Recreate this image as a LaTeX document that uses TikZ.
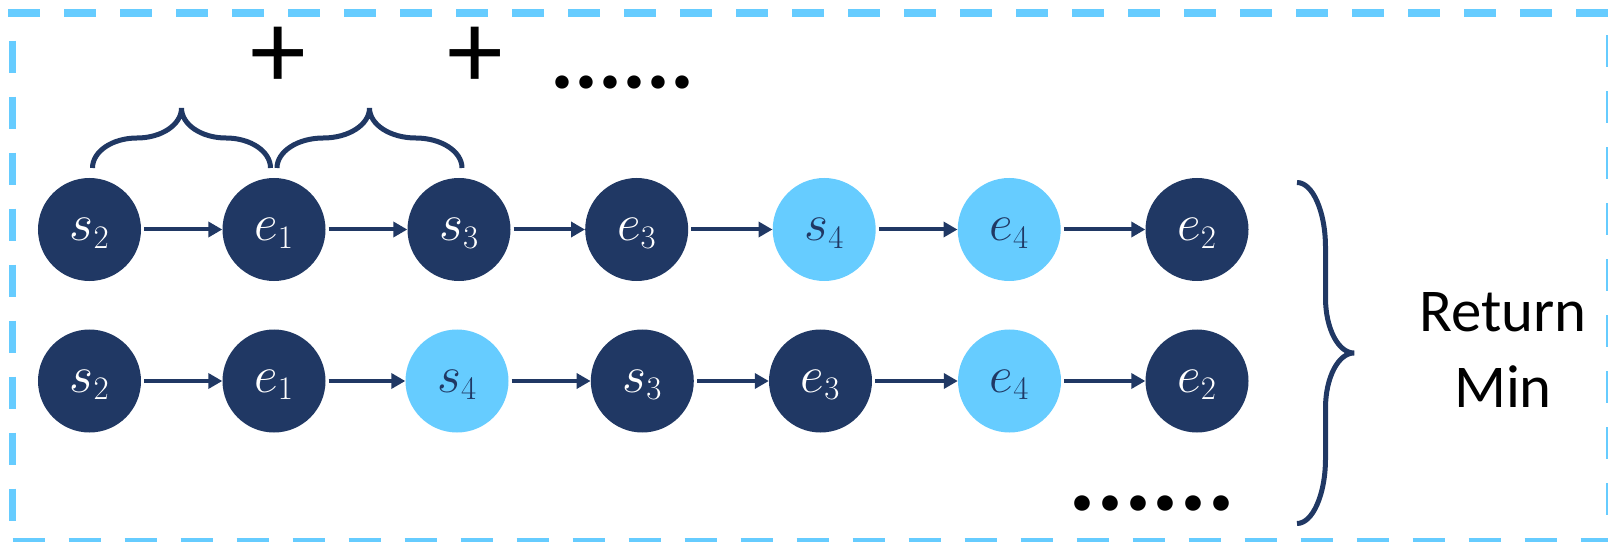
\RequirePackage{fix-cm}
\documentclass[tikz,border=0pt]{standalone}
\usepackage{fontspec}
\setmainfont{Carlito}
\usetikzlibrary{arrows.meta}
\definecolor{navy}{HTML}{203864}
\definecolor{sky}{HTML}{66CCFF}
\DeclareMathSizes{52}{52}{33}{24}

\begin{document}
\begin{tikzpicture}[x=1bp,y=-1bp,
  dark/.style={circle, fill=navy, text=white, minimum size=103bp, inner sep=0pt,
               text depth=0pt, font=\fontsize{52}{62}\selectfont},
  light/.style={dark, fill=sky, text=navy},
  link/.style={draw=navy, line width=4bp, -{Triangle[length=14bp,width=15bp]},
               shorten <=3bp},
  bracestroke/.style={draw=navy, line width=5bp},
  frame/.style={draw=sky, line width=7.5bp, dash pattern=on 32bp off 24bp},
  plus/.style={inner sep=0pt, font=\fontsize{112}{120}\selectfont},
  dots/.style={inner sep=0pt},
]
\useasboundingbox (0,0) rectangle (1608,542);

% dashed frame, one side at a time
\draw[frame] (8.3,13) -- (1612,13);
\draw[frame, dash phase=32bp] (12.5,16.7) -- (12.5,546);
\draw[frame] (12.7,541.7) -- (1612,541.7);
\draw[frame] (1609.7,35) -- (1609.7,546);

% first sequence
\node[dark]  (a1) at (89.5,229.5)  {$s_2$};
\node[dark]  (a2) at (274,229.5)   {$e_1$};
\node[dark]  (a3) at (459,229.5)   {$s_3$};
\node[dark]  (a4) at (636.7,229.5) {$e_3$};
\node[light] (a5) at (824.2,229.5) {$s_4$};
\node[light] (a6) at (1009.2,229.5){$e_4$};
\node[dark]  (a7) at (1197,229.5)  {$e_2$};

% second sequence
\node[dark]  (b1) at (89.5,381)  {$s_2$};
\node[dark]  (b2) at (274,381)   {$e_1$};
\node[light] (b3) at (457,381)   {$s_4$};
\node[dark]  (b4) at (642.3,381) {$s_3$};
\node[dark]  (b5) at (820.5,381) {$e_3$};
\node[light] (b6) at (1009.5,381){$e_4$};
\node[dark]  (b7) at (1197,381)  {$e_2$};

\foreach \i/\j in {1/2,2/3,3/4,4/5,5/6,6/7}{
  \draw[link] (a\i) -- (a\j);
  \draw[link] (b\i) -- (b\j);
}

% braces over consecutive pairs
\draw[bracestroke] (92.5,168) .. controls (92.5,151.4) and (112.4,138) .. (137,138)
  .. controls (161.6,138) and (181.5,124.6) .. (181.5,108)
  .. controls (181.5,124.6) and (201.4,138) .. (226,138)
  .. controls (250.6,138) and (270.5,151.4) .. (270.5,168);
\draw[bracestroke] (277,168) .. controls (277,151.4) and (297.8,138) .. (323.25,138)
  .. controls (348.8,138) and (369.5,124.6) .. (369.5,108)
  .. controls (369.5,124.6) and (390.2,138) .. (415.75,138)
  .. controls (441.3,138) and (462,151.4) .. (462,168);

\node[plus] (p1) at (278,58) {+};
\node[plus] (p2) at (475,58) {+};
\node[dots, font=\bfseries\fontsize{90}{100}\selectfont] (d1) at (622.5,82.7) {......};

% brace gathering all sequences
\draw[bracestroke] (1297,182.5) .. controls (1312.7,182.5) and (1325.5,211.6) .. (1325.5,247.5)
  -- (1325.5,298) .. controls (1325.5,328.4) and (1338.3,353) .. (1354,353)
  .. controls (1338.3,353) and (1325.5,377.6) .. (1325.5,408)
  -- (1325.5,458.5) .. controls (1325.5,494.4) and (1312.7,523.5) .. (1297,523.5);

\node[dots, font=\bfseries\fontsize{105}{115}\selectfont] (d2) at (1152,503) {......};

\node[align=center, inner sep=0pt, font=\fontsize{61}{77}\selectfont] (ret) at (1503,350) {Return\\Min};
\end{tikzpicture}
\end{document}
